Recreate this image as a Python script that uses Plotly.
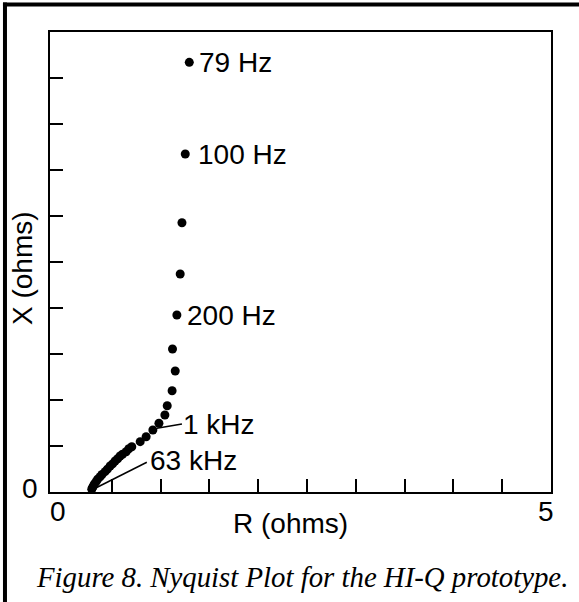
import plotly.graph_objects as go

# Nyquist data (ohms) (high frequency end is dense)
R_ohms = [1.294, 1.253, 1.219, 1.201, 1.167, 1.122, 1.150, 1.118, 1.068, 1.044,
          0.983, 0.921, 0.852, 0.791, 0.705, 0.675, 0.647, 0.610, 0.585, 0.560,
          0.534, 0.508, 0.483, 0.455, 0.431, 0.400, 0.380, 0.355, 0.339, 0.322,
          0.311, 0.300, 0.295]
X_ohms = [4.67, 3.674, 2.927, 2.37, 1.924, 1.554, 1.315, 1.10, 0.938, 0.837,
          0.747, 0.674, 0.601, 0.547, 0.492, 0.470, 0.438, 0.410, 0.391, 0.362,
          0.337, 0.305, 0.283, 0.248, 0.221, 0.190, 0.166, 0.138, 0.112, 0.088,
          0.065, 0.045, 0.029]

# frequency labels attached to points
freq_labels = ["79 Hz", "100 Hz", "200 Hz"]
freq_label_idx = [0, 1, 4]
leader_labels = ["1 kHz", "63 kHz"]

x_ticks = [0.5, 1.0, 1.5, 2.0, 2.5, 3.0, 3.5, 4.0, 4.5]
y_ticks = [0.5, 1.0, 1.5, 2.0, 2.5, 3.0, 3.5, 4.0, 4.5]
x_tick_labels = ["0", "5"]
y_tick_labels = ["0"]

SANS = "Liberation Sans, Arial, Helvetica, sans-serif"
SERIF = "Liberation Serif, Times New Roman, serif"
FS = 28

# plot area sits at window px x 50..550.7, y 32..492 (body margin removed)
W, H = 579, 602
PL, PR, PT, PB = 50.0, 550.7, 32.0, 492.0
def px(wx):
    return (wx - PL) / (PR - PL)
def py(wy):
    return (PB - wy) / (PB - PT)

fig = go.Figure()
fig.add_trace(go.Scatter(
    x=R_ohms, y=X_ohms, mode="markers",
    marker=dict(color="black", size=9, line=dict(width=0)),
    cliponaxis=False, showlegend=False, hoverinfo="skip"))

axis_common = dict(showline=True, mirror=True, linecolor="black", linewidth=2,
                   ticks="inside", ticklen=13, tickwidth=2, tickcolor="black",
                   showticklabels=False, showgrid=False, zeroline=False,
                   fixedrange=True)

fig.update_layout(
    width=W, height=H, autosize=False,
    margin=dict(l=PL, r=W - PR, t=PT, b=H - PB, pad=0),
    paper_bgcolor="white", plot_bgcolor="white",
    xaxis=dict(range=[-0.133, 5], tickvals=x_ticks, **axis_common),
    yaxis=dict(range=[0, 5], tickvals=y_ticks, **axis_common),
    font=dict(family=SANS, size=FS, color="black"),
)

# outer frame (top and left)
fig.add_shape(type="line", xref="paper", yref="paper", x0=px(3), x1=px(600),
              y0=py(4.5), y1=py(4.5), line=dict(color="black", width=4))
fig.add_shape(type="line", xref="paper", yref="paper", x0=px(5), x1=px(5),
              y0=py(620), y1=py(2.5), line=dict(color="black", width=4))

# leader lines
fig.add_shape(type="line", xref="x", yref="y", x0=0.962, y0=0.692, x1=1.219, y1=0.739,
              line=dict(color="black", width=1.5))
fig.add_shape(type="line", xref="x", yref="y", x0=R_ohms[-1], y0=0.022, x1=0.859, y1=0.323,
              line=dict(color="black", width=1.5))

ann = []
label_pos = [(197, 62.3), (196, 154), (184.5, 315)]
for t, (lx, ly) in zip(freq_labels, label_pos):
    ann.append(dict(x=px(lx), y=py(ly), text=t, xanchor="left", yanchor="middle"))
ann.append(dict(x=px(181), y=py(424), text=leader_labels[0], xanchor="left", yanchor="middle"))
ann.append(dict(x=px(148), y=py(460), text=leader_labels[1], xanchor="left", yanchor="middle"))
# tick labels
ann.append(dict(x=px(58), y=py(511), text=x_tick_labels[0], xanchor="center", yanchor="middle"))
ann.append(dict(x=px(546), y=py(511), text=x_tick_labels[1], xanchor="center", yanchor="middle"))
ann.append(dict(x=px(30), y=py(488), text=y_tick_labels[0], xanchor="center", yanchor="middle"))
# axis titles
ann.append(dict(x=px(290), y=py(523), text="R (ohms)", xanchor="center", yanchor="middle"))
ann.append(dict(x=px(22), y=py(268), text="X (ohms)", textangle=-90,
                xanchor="center", yanchor="middle"))
for a in ann:
    a.update(xref="paper", yref="paper", showarrow=False,
             font=dict(family=SANS, size=FS, color="black"))
    fig.add_annotation(**a)

fig.add_annotation(xref="paper", yref="paper", x=px(302), y=py(577),
                   text="<i>Figure 8. Nyquist Plot for the HI-Q prototype.</i>",
                   showarrow=False, xanchor="center", yanchor="middle",
                   font=dict(family=SERIF, size=28.8, color="black"))

fig.write_html("out.html", config={"displayModeBar": False, "staticPlot": True},
               post_script="document.body.style.margin='0px';")
